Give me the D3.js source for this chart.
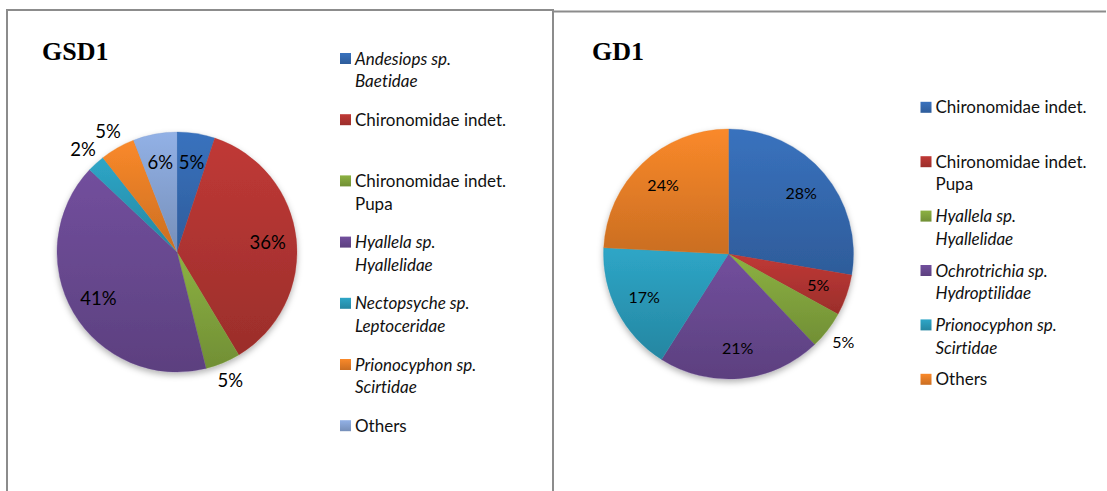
<!DOCTYPE html>
<html>
<head>
<meta charset="utf-8">
<script src="https://cdn.jsdelivr.net/npm/d3@7"></script>
<style>
  html, body { margin: 0; padding: 0; background: #ffffff; }
  svg { display: block; }
  text { font-variant-ligatures: none; font-feature-settings: "liga" 0, "clig" 0; }
</style>
</head>
<body>
<svg id="chart" width="1107" height="491"></svg>
<script>
// ---------- DATA ----------
const gsd1Title = "GSD1";
const gsd1Categories = [
  "Andesiops sp.\nBaetidae",
  "Chironomidae indet.",
  "Chironomidae indet.\nPupa",
  "Hyallela sp.\nHyallelidae",
  "Nectopsyche sp.\nLeptoceridae",
  "Prionocyphon sp.\nScirtidae",
  "Others"
];
const gsd1Values = [5.1, 36.3, 4.7, 40.9, 2.4, 4.7, 5.9];
const gsd1Colors = ["#3468ae", "#b03431", "#80a23c", "#684890", "#2a98b6", "#e57d26", "#86a2d2"];

const gd1Title = "GD1";
const gd1Categories = [
  "Chironomidae indet.",
  "Chironomidae indet.\nPupa",
  "Hyallela sp.\nHyallelidae",
  "Ochrotrichia sp.\nHydroptilidae",
  "Prionocyphon sp.\nScirtidae",
  "Others"
];
const gd1Values = [27.7, 5.3, 4.9, 21.1, 16.8, 24.2];
const gd1Colors = ["#3468ae", "#b03431", "#80a23c", "#684890", "#2a98b6", "#e57d26"];

// ---------- DRAW ----------
const svg = d3.select("#chart");
const defs = svg.append("defs");

const shadow = defs.append("filter").attr("id", "pieShadow")
  .attr("x", "-20%").attr("y", "-20%").attr("width", "140%").attr("height", "140%");
shadow.append("feDropShadow").attr("dx", 0).attr("dy", 3).attr("stdDeviation", 3)
  .attr("flood-color", "#000").attr("flood-opacity", 0.3);

// panel borders
const border = svg.append("g").attr("fill", "none").attr("stroke", "#8c8c8c").attr("stroke-width", 2);
border.append("path").attr("d", "M7,491 L7,10 L553,10 L553,491");
border.append("path").attr("d", "M553,11.5 L1106,11.5");

function gradientFor(id, base) {
  const c = d3.color(base);
  const g = defs.append("linearGradient").attr("id", id)
    .attr("x1", 0).attr("y1", 0).attr("x2", 0).attr("y2", 1);
  g.append("stop").attr("offset", "0%").attr("stop-color", d3.rgb(c).brighter(0.25).formatHex());
  g.append("stop").attr("offset", "100%").attr("stop-color", d3.rgb(c).darker(0.35).formatHex());
  return "url(#" + id + ")";
}

function drawPie(cfg) {
  const g = svg.append("g");
  g.append("text")
    .attr("x", cfg.titleX).attr("y", cfg.titleY)
    .attr("font-family", "'Liberation Serif', 'Times New Roman', serif")
    .attr("font-weight", "bold").attr("font-size", 26).attr("fill", "#000")
    .text(cfg.title);

  const total = d3.sum(cfg.values);
  const pie = d3.pie().sort(null).value(d => d)(cfg.values);
  const arc = d3.arc().innerRadius(0).outerRadius(cfg.r);
  const inArc = d3.arc().innerRadius(cfg.r * 0.76).outerRadius(cfg.r * 0.76);
  const outArc = d3.arc().innerRadius(cfg.r * 1.16).outerRadius(cfg.r * 1.16);

  const pg = g.append("g").attr("transform", `translate(${cfg.cx},${cfg.cy})`)
    .attr("filter", "url(#pieShadow)");
  pg.selectAll("path").data(pie).join("path")
    .attr("d", arc)
    .attr("fill", (d, i) => gradientFor(cfg.id + "g" + i, cfg.colors[i]))
    .attr("stroke", (d, i) => d3.rgb(cfg.colors[i]).darker(0.1).formatHex())
    .attr("stroke-width", 0.3);

  const fmt = v => Math.round(v / total * 100) + "%";
  g.append("g").attr("transform", `translate(${cfg.cx},${cfg.cy})`)
    .selectAll("text").data(pie).join("text")
    .attr("transform", d => {
      const p = (d.value / total * 100 < 5 ? outArc : inArc).centroid(d);
      return `translate(${p[0]},${p[1]})`;
    })
    .attr("text-anchor", "middle").attr("dy", "0.36em")
    .attr("font-family", "Lato, 'Open Sans', sans-serif")
    .attr("font-size", cfg.labelSize).attr("fill", "#000")
    .text(d => fmt(d.value));

  // legend
  const lg = g.append("g").attr("font-family", "Lato, 'Open Sans', sans-serif")
    .attr("font-size", 17).attr("fill", "#111");
  cfg.categories.forEach((name, i) => {
    const y0 = cfg.legY + i * cfg.legStep;
    lg.append("rect").attr("x", cfg.legX - 15).attr("y", y0 - 5.5)
      .attr("width", 11).attr("height", 11)
      .attr("fill", gradientFor(cfg.id + "l" + i, cfg.colors[i]));
    const italic = name.indexOf(" sp.") >= 0;
    name.split("\n").forEach((line, j) => {
      lg.append("text").attr("x", cfg.legX).attr("y", y0 + j * 22.5)
        .attr("dy", "0.36em")
        .attr("font-style", italic ? "italic" : "normal")
        .text(line);
    });
  });
}

drawPie({
  id: "gsd1", title: gsd1Title, titleX: 42, titleY: 59.5,
  categories: gsd1Categories, values: gsd1Values, colors: gsd1Colors,
  cx: 177, cy: 252, r: 120, labelSize: 18.5,
  legX: 355, legY: 58.5, legStep: 61.2
});

drawPie({
  id: "gd1", title: gd1Title, titleX: 592, titleY: 59.5,
  categories: gd1Categories, values: gd1Values, colors: gd1Colors,
  cx: 728.5, cy: 254, r: 125, labelSize: 16,
  legX: 935.5, legY: 107.3, legStep: 54.4
});
</script>
</body>
</html>
